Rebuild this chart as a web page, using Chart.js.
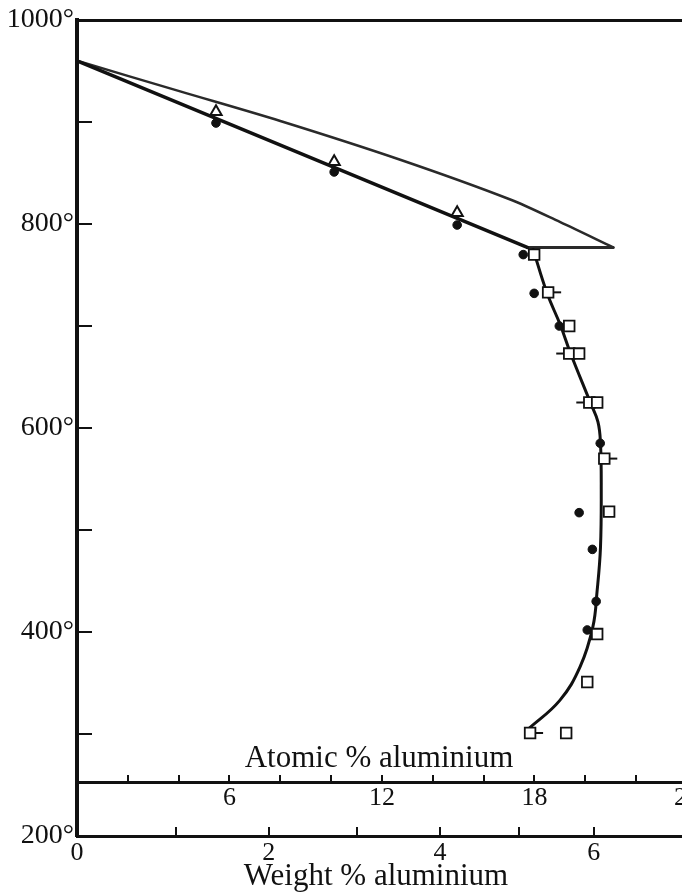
<!DOCTYPE html>
<html>
<head>
<meta charset="utf-8">
<title>Aluminium in silver</title>
<script src="https://cdn.jsdelivr.net/npm/chart.js@4.4.1/dist/chart.umd.min.js"></script>
<style>
  html, body { margin: 0; padding: 0; background: #fff; overflow: hidden; }
  #wrap { width: 682px; height: 896px; overflow: hidden; }
  canvas { display: block; }
</style>
</head>
<body>
<div id="wrap"><canvas id="chart" width="725" height="896"></canvas></div>
<script>
// temperature axis, deg C
const tempTicks = [200, 300, 400, 500, 600, 700, 800, 900, 1000];
const tempLabelled = [200, 400, 600, 800, 1000];

// composition axes
const atomicTicks = [2, 4, 6, 8, 10, 12, 14, 16, 18, 20, 22, 24];
const atomicLabelled = [6, 12, 18, 24];
const weightTicks = [0, 1, 2, 3, 4, 5, 6];
const weightLabelled = [0, 2, 4, 6];

// phase boundaries as [atomic % Al, temperature]
const liquidus = [[0, 960], [4.06, 930], [8.0, 901], [12.72, 863], [17.05, 824], [19.0, 802], [21.1, 777]];
const solidus = [[0, 960], [17.72, 777]];
const peritectic = [[17.72, 777], [21.1, 777]];
const solvus = [[17.95, 775], [18.5, 732], [19.02, 701], [19.41, 674], [20.2, 625], [20.5, 606],
                [20.6, 585], [20.63, 540], [20.6, 483], [20.47, 441], [20.3, 405], [19.8, 366],
                [19.0, 333], [17.72, 304]];

// observations
const triangles = [[5.47, 910], [10.12, 861], [14.96, 811]];
const dots = [[5.47, 899], [10.12, 851], [14.96, 799], [17.56, 770], [17.99, 732], [18.98, 700],
              [20.59, 585], [19.76, 517], [20.28, 481], [20.43, 430], [20.08, 402]];
const squares = [[17.99, 770], [18.54, 733], [19.37, 700], [19.37, 673], [19.76, 673], [20.16, 625],
                 [20.47, 625], [20.75, 570], [20.94, 518], [20.47, 398], [20.08, 351], [17.83, 301],
                 [19.25, 301]];
const tailRight = [[18.54, 733], [20.75, 570], [17.83, 301]];
const tailLeft = [[19.37, 673], [20.16, 625]];

const ink = '#111';
const serif = '"Liberation Serif", "DejaVu Serif", serif';
const AL = 26.98, AG = 107.87;

function atomicFromWeight(w) {
    const al = w / AL;
    const ag = (100 - w) / AG;
    return 100 * al / (al + ag);
}

const xy = arr => arr.map(([x, y]) => ({ x, y }));

function curve(data, width, color, tension) {
    return {
        data: xy(data), showLine: true, pointRadius: 0,
        borderColor: color, borderWidth: width, tension: tension,
        borderCapStyle: 'round', borderJoinStyle: 'round'
    };
}

function marks(data, style, radius, fill, width, rotation) {
    return {
        data: xy(data), showLine: false,
        pointStyle: style, pointRadius: radius, pointRotation: rotation || 0,
        pointBackgroundColor: fill, pointBorderColor: ink, pointBorderWidth: width
    };
}

// keep the frame tight: no extra room for edge labels
function noEdgePadding(s) {
    s.paddingTop = 0; s.paddingBottom = 0;
    s.paddingLeft = 0; s.paddingRight = 0;
}

// axis captions
const captions = {
    id: 'captions',
    afterDraw(chart) {
        const ctx = chart.ctx;
        ctx.save();
        ctx.fillStyle = ink;
        ctx.font = '31px ' + serif;
        ctx.textAlign = 'center';
        ctx.textBaseline = 'alphabetic';
        ctx.fillText('Atomic % aluminium', 379, 767);
        ctx.fillText('Weight % aluminium', 376, 885);
        ctx.restore();
    }
};

const X_MAX = 25.5;

new Chart(document.getElementById('chart'), {
    type: 'scatter',
    data: {
        datasets: [
            marks(squares, 'rect', 7.5, '#fff', 1.8),
            marks(tailRight, 'dash', 13, ink, 2),
            marks(tailLeft, 'dash', 13, ink, 2, 180),
            marks(dots, 'circle', 4.3, ink, 1),
            marks(triangles, 'triangle', 6.5, '#fff', 2),
            curve(solvus, 3, ink, 0.4),
            curve(solidus, 3.5, ink, 0),
            curve(liquidus, 2.5, '#2a2a2a', 0.3),
            curve(peritectic, 3, '#2a2a2a', 0)
        ]
    },
    options: {
        responsive: false,
        animation: false,
        events: [],
        devicePixelRatio: 1,
        layout: { autoPadding: false, padding: { top: 20, left: 0, right: 0, bottom: 0 } },
        plugins: { legend: { display: false }, tooltip: { enabled: false } },
        scales: {
            x: {
                type: 'linear', min: 0, max: X_MAX,
                position: { y: 252 },
                afterBuildTicks: s => { s.ticks = atomicTicks.map(v => ({ value: v })); },
                afterFit: noEdgePadding,
                ticks: {
                    autoSkip: false, maxRotation: 0, padding: 9, color: ink,
                    font: { family: serif, size: 26 },
                    callback: v => atomicLabelled.includes(v) ? String(v) : ''
                },
                grid: { drawOnChartArea: false, tickLength: -9, lineWidth: 2, color: ink },
                border: { width: 3, color: ink }
            },
            xw: {
                type: 'linear', min: 0, max: X_MAX, position: 'bottom',
                afterBuildTicks: s => { s.ticks = weightTicks.map(w => ({ value: atomicFromWeight(w) })); },
                afterFit: s => { noEdgePadding(s); s.height = 60; },
                ticks: {
                    autoSkip: false, maxRotation: 0, padding: 11, color: ink,
                    font: { family: serif, size: 26 },
                    callback: (v, i) => weightLabelled.includes(weightTicks[i]) ? String(weightTicks[i]) : ''
                },
                grid: { drawOnChartArea: false, tickLength: -9, lineWidth: 2, color: ink },
                border: { width: 3, color: ink }
            },
            xt: {
                type: 'linear', min: 0, max: X_MAX, position: 'top',
                afterFit: s => { noEdgePadding(s); s.height = 0; },
                ticks: { display: false },
                grid: { drawOnChartArea: false, drawTicks: false },
                border: { width: 3, color: ink }
            },
            y: {
                type: 'linear', min: 200, max: 1000, position: 'left',
                afterBuildTicks: s => { s.ticks = tempTicks.map(v => ({ value: v })); },
                afterFit: s => { noEdgePadding(s); s.width = 77; },
                ticks: {
                    autoSkip: false, padding: 18, color: ink,
                    font: { family: serif, size: 28 },
                    callback: v => tempLabelled.includes(v) ? v + '°' : ''
                },
                grid: { drawOnChartArea: false, tickLength: -15, lineWidth: 2, color: ink },
                border: { width: 4, color: ink }
            }
        }
    },
    plugins: [captions]
});
</script>
</body>
</html>
